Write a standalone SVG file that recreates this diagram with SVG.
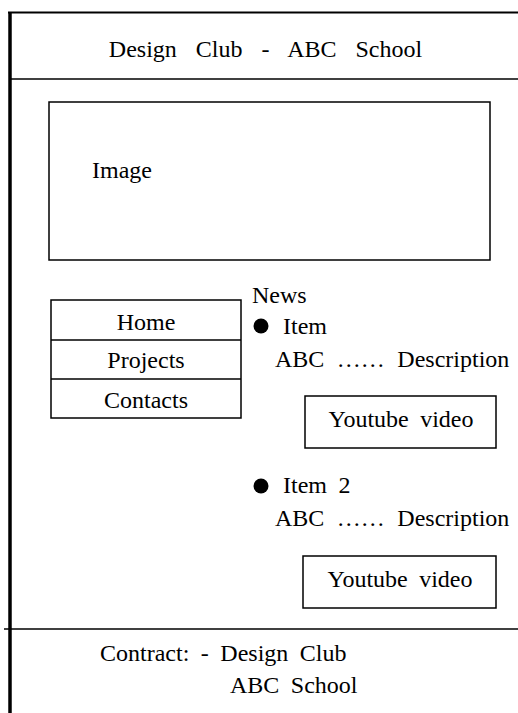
<svg xmlns="http://www.w3.org/2000/svg" width="518" height="713" viewBox="0 0 518 713" font-family="'Liberation Serif', 'DejaVu Serif', serif">
<style>
text{font-family:'Liberation Serif','DejaVu Serif',serif;font-size:24px;fill:#000;word-spacing:5.5px}
.box{fill:none;stroke:#000;stroke-width:1.5}
.ln{stroke:#000;fill:none}
</style>
<rect width="518" height="713" fill="#fff"/>
<g id="frame">
<line class="ln" x1="10" y1="12" x2="10" y2="713" stroke-width="3.5"/>
<line class="ln" x1="8" y1="12.5" x2="518" y2="12.5" stroke-width="2"/>
<line class="ln" x1="10" y1="79" x2="518" y2="79" stroke-width="1.5"/>
<line class="ln" x1="4" y1="629" x2="518" y2="629" stroke-width="1.5"/>
</g>
<g id="header"><text x="265.5" y="57" text-anchor="middle" style="word-spacing:13px">Design Club - ABC School</text></g>
<g id="image"><rect class="box" x="49" y="102" width="441" height="158"/><text x="92" y="178">Image</text></g>
<g id="menu">
<rect class="box" x="51" y="300" width="190" height="118"/>
<line class="ln" x1="51" y1="340" x2="241" y2="340" stroke-width="1.5"/>
<line class="ln" x1="51" y1="379" x2="241" y2="379" stroke-width="1.5"/>
<text x="146" y="330" text-anchor="middle">Home</text>
<text x="146" y="368" text-anchor="middle">Projects</text>
<text x="146" y="408" text-anchor="middle">Contacts</text>
</g>
<g id="news">
<text x="252" y="303">News</text>
<circle cx="261" cy="326" r="7.5"/>
<text x="283" y="334">Item</text>
<text x="275" y="367" style="word-spacing:6.5px">ABC …… Description</text>
</g>
<g id="video1"><rect class="box" x="305" y="396" width="191" height="52"/><text x="401" y="427" text-anchor="middle">Youtube video</text></g>
<g id="news2">
<circle cx="261" cy="486" r="7.5"/>
<text x="283" y="493">Item 2</text>
<text x="275" y="526" style="word-spacing:6.5px">ABC …… Description</text>
</g>
<g id="video2"><rect class="box" x="303" y="556" width="193" height="52"/><text x="400" y="587" text-anchor="middle">Youtube video</text></g>
<g id="footer">
<text x="100" y="661">Contract: - Design Club</text>
<text x="230" y="693">ABC School</text>
</g>
<g id="connectors"/>
</svg>
